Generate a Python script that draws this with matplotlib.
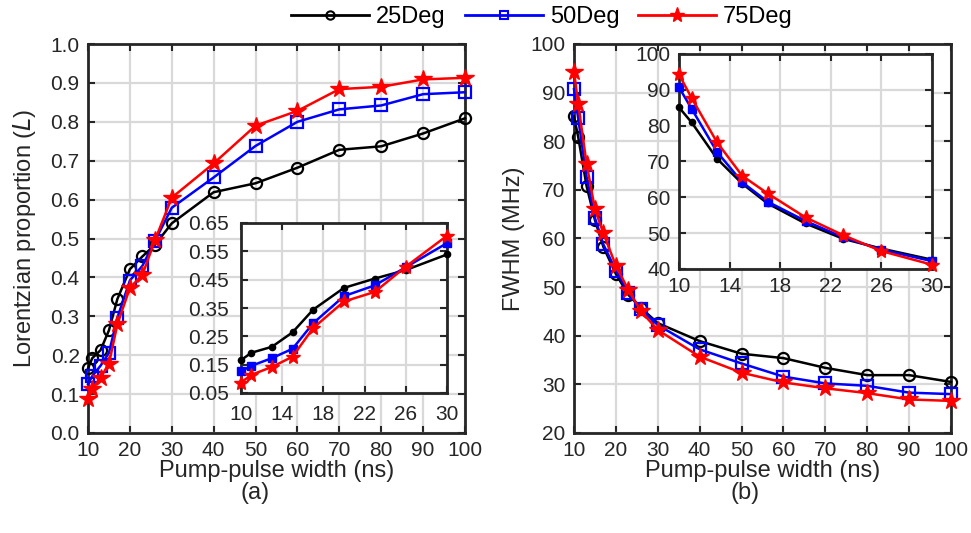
import numpy as np
import matplotlib
matplotlib.use('Agg')
import matplotlib.pyplot as plt
from matplotlib.lines import Line2D

plt.rcParams['font.family'] = ['Liberation Sans', 'DejaVu Sans']

# ====== DATOS ======
pulse_width = [10, 11, 13, 15, 17, 20, 23, 26, 30, 40, 50, 60, 70, 80, 90, 100]

lor_25 = [0.166, 0.192, 0.213, 0.264, 0.344, 0.421, 0.454, 0.484, 0.539,
          0.619, 0.642, 0.682, 0.728, 0.737, 0.770, 0.809]
lor_50 = [0.126, 0.146, 0.173, 0.206, 0.296, 0.392, 0.430, 0.494, 0.579,
          0.657, 0.738, 0.800, 0.832, 0.842, 0.871, 0.876]
lor_75 = [0.087, 0.114, 0.142, 0.178, 0.279, 0.373, 0.407, 0.496, 0.605,
          0.693, 0.790, 0.828, 0.884, 0.890, 0.909, 0.913]

fwhm_25 = [85.1, 80.9, 70.8, 63.8, 58.3, 52.7, 48.4, 45.7, 42.6,
           38.9, 36.3, 35.4, 33.4, 31.9, 31.9, 30.5]
fwhm_50 = [90.7, 84.7, 72.7, 64.2, 58.8, 53.4, 48.8, 45.4, 42.2,
           37.2, 34.3, 31.6, 30.2, 29.7, 28.3, 28.0]
fwhm_75 = [94.3, 87.7, 75.4, 66.0, 61.1, 54.4, 49.4, 45.0, 41.2,
           35.7, 32.4, 30.4, 29.2, 28.2, 26.9, 26.6]

labels = ['25Deg', '50Deg', '75Deg']
colors = ['black', 'blue', 'red']
main_markers = ['o', 's', '*']
inset_markers = ['.', 's', '*']

FS = 15        # ticks
FS_LAB = 17    # etiquetas de ejes
EDGE = '#262626'


def style_axes(ax, fs=FS, pad=6):
    ax.grid(True, color='#d9d9d9', linewidth=1.6)
    ax.set_axisbelow(True)
    ax.tick_params(direction='in', top=True, right=True, labelsize=fs,
                   length=5, width=1.5, colors=EDGE, labelcolor=EDGE, pad=pad)
    for s in ax.spines.values():
        s.set_linewidth(2)
        s.set_color(EDGE)


def draw_main(ax, series):
    for y, c, m in zip(series, colors, main_markers):
        if m == '*':
            ax.plot(pulse_width, y, color=c, marker=m, markersize=13,
                    linewidth=1.8, clip_on=False, zorder=3)
        else:
            ax.plot(pulse_width, y, color=c, marker=m, markersize=8,
                    markerfacecolor='none', markeredgewidth=1.6,
                    linewidth=1.8, clip_on=False, zorder=3)


def draw_inset(ax, series):
    n = 9
    for y, c, m in zip(series, colors, inset_markers):
        ms = {'.': 9, 's': 6, '*': 10}[m]
        ax.plot(pulse_width[:n], y[:n], color=c, marker=m, markersize=ms,
                linewidth=1.8, clip_on=False, zorder=3)


fig = plt.figure(figsize=(9.71, 5.33), dpi=100)

# ====== PANEL (a) ======
ax1 = fig.add_axes([88 / 971, 100 / 533, 377 / 971, 389 / 533])
draw_main(ax1, [lor_25, lor_50, lor_75])
ax1.set_xlim(10, 100)
ax1.set_ylim(0, 1.0)
ax1.set_xticks(np.arange(10, 101, 10))
ax1.set_yticks(np.arange(0, 1.01, 0.1))
ax1.set_yticklabels([f'{v:.1f}' for v in np.arange(0, 1.01, 0.1)])
style_axes(ax1, pad=6)
ax1.set_xlabel('Pump-pulse width (ns)', fontsize=FS_LAB, color=EDGE, labelpad=0)
ax1.set_ylabel('Lorentzian proportion ($\\mathit{L}$)', fontsize=FS_LAB,
               color=EDGE, labelpad=9)
fig.text(255 / 971, 1 - 493 / 533, '(a)', fontsize=FS_LAB, color=EDGE,
         ha='center', va='center')

ins1 = fig.add_axes([241 / 971, 140 / 533, 206 / 971, 170 / 533])
draw_inset(ins1, [lor_25, lor_50, lor_75])
ins1.set_xlim(10, 30)
ins1.set_ylim(0.05, 0.65)
ins1.set_xticks(np.arange(10, 31, 4))
ins1.set_yticks(np.arange(0.05, 0.66, 0.1))
ins1.set_yticklabels([f'{v:.2f}' for v in np.arange(0.05, 0.66, 0.1)])
style_axes(ins1, pad=9)

# ====== PANEL (b) ======
ax2 = fig.add_axes([574 / 971, 100 / 533, 377 / 971, 389 / 533])
draw_main(ax2, [fwhm_25, fwhm_50, fwhm_75])
ax2.set_xlim(10, 100)
ax2.set_ylim(20, 100)
ax2.set_xticks(np.arange(10, 101, 10))
ax2.set_yticks(np.arange(20, 101, 10))
style_axes(ax2, pad=6)
ax2.set_xlabel('Pump-pulse width (ns)', fontsize=FS_LAB, color=EDGE, labelpad=0)
ax2.set_ylabel('FWHM (MHz)', fontsize=FS_LAB, color=EDGE, labelpad=4)
fig.text(745 / 971, 1 - 493 / 533, '(b)', fontsize=FS_LAB, color=EDGE,
         ha='center', va='center')

ins2 = fig.add_axes([679 / 971, 264 / 533, 253 / 971, 215 / 533])
draw_inset(ins2, [fwhm_25, fwhm_50, fwhm_75])
ins2.set_xlim(10, 30)
ins2.set_ylim(40, 100)
ins2.set_xticks(np.arange(10, 31, 4))
ins2.set_yticks(np.arange(40, 101, 10))
style_axes(ins2, pad=6)

# ====== LEYENDA ======
handles = [
    Line2D([], [], color='black', marker='o', markersize=6,
           markerfacecolor='none', markeredgewidth=1.5, linewidth=2),
    Line2D([], [], color='blue', marker='s', markersize=6,
           markerfacecolor='none', markeredgewidth=1.5, linewidth=2),
    Line2D([], [], color='red', marker='*', markersize=11, linewidth=2),
]
fig.legend(handles, labels, loc='center', bbox_to_anchor=(542 / 971, 1 - 17 / 533),
           ncol=3, frameon=False, fontsize=FS_LAB, handlelength=3.3,
           handletextpad=0.3, columnspacing=0.8)

plt.savefig('out.png', dpi=100)
